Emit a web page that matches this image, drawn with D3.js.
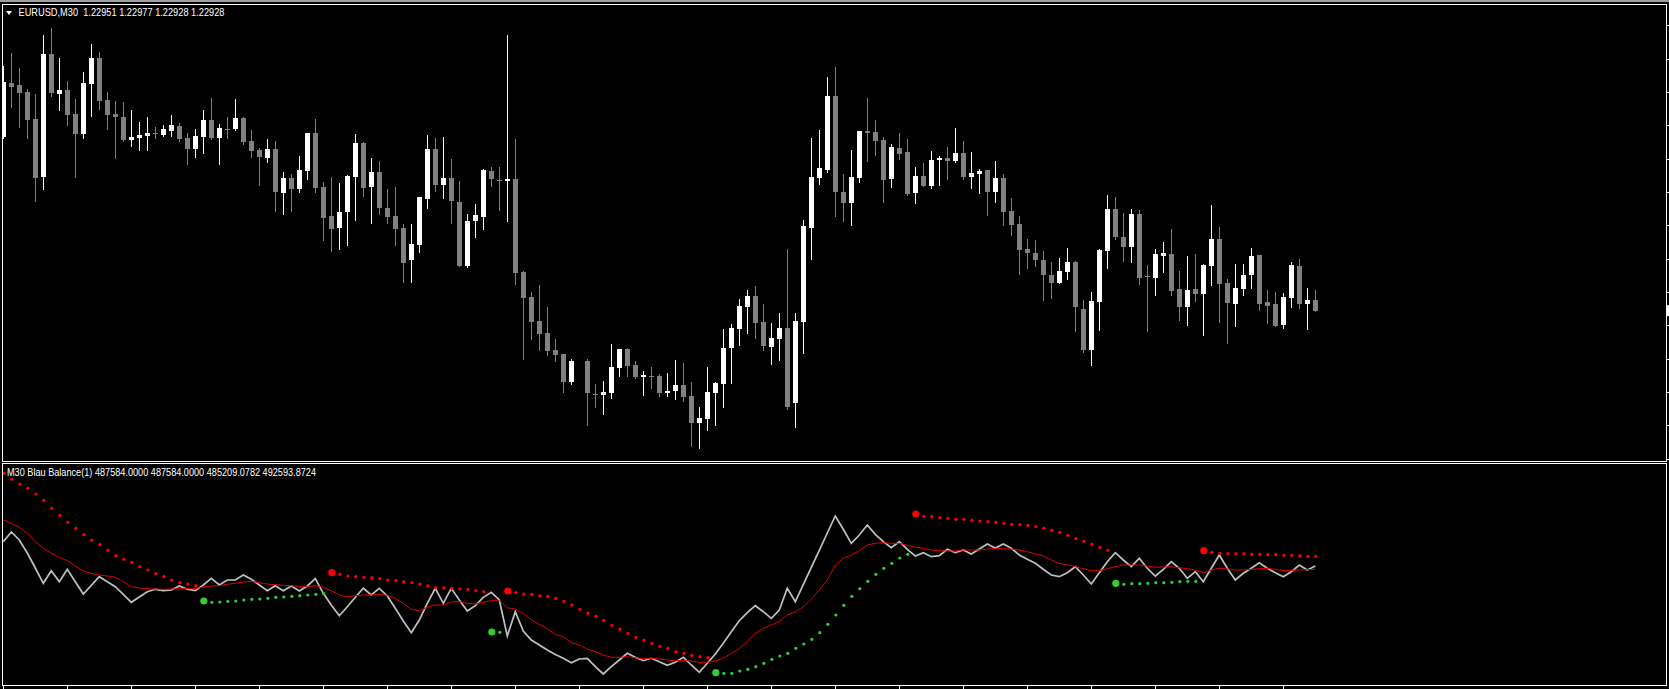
<!DOCTYPE html>
<html><head><meta charset="utf-8">
<script src="https://cdn.jsdelivr.net/npm/d3@7"></script>
<style>html,body{margin:0;padding:0;background:#000;overflow:hidden} text{white-space:pre}</style>
</head><body><svg id="c" width="1669" height="689"></svg>
<script>
// ---- DATA (price levels in chart points; bar index 0..164) ----
const N = null;
const titleText = "EURUSD,M30  1.22951 1.22977 1.22928 1.22928";
const indicatorText = "M30 Blau Balance(1) 487584.0000 487584.0000 485209.0782 492593.8724";

const barOpen = [970,1131,1125,1104,1023,850,1218,1099,1110,1038,979,1129,1206,1080,1038,1029,960,967,973,980,
976,988,1002,966,934,969,1020,967,994,994,1026,957,930,907,933,802,846,814,868,981,
819,732,697,745,850,951,820,864,756,732,696,601,646,784,933,826,846,774,583,718,
730,867,841,838,843,564,489,417,381,331,318,235,N,298,199,196,202,277,334,285,
250,253,253,202,208,226,193,112,123,202,229,337,394,460,493,415,340,364,397,172,
415,697,847,870,1093,805,772,847,987,984,960,844,936,924,802,852,823,901,906,898,
921,850,859,870,805,846,747,708,633,621,600,556,532,565,594,453,331,475,628,753,
669,640,738,551,547,613,618,513,460,513,499,583,663,531,469,514,556,615,474,468,
406,487,582,467,480];
const barHigh = [1183,1221,1176,1113,1098,1275,1296,1206,1137,1083,1164,1248,1224,1104,1077,1074,1050,1014,1029,999,
1005,1036,1011,981,993,1050,1086,1008,1029,1083,1029,990,936,963,957,864,858,912,981,1023,
834,849,831,856,978,954,906,897,813,819,708,708,789,975,966,969,903,837,738,768,
873,879,879,1275,963,567,504,525,459,364,318,302,N,302,229,237,349,334,337,298,
267,280,259,262,301,292,235,160,280,235,394,409,484,511,523,469,412,442,634,442,
721,966,990,1150,1180,859,930,987,1086,1020,969,948,981,963,879,891,927,912,939,996,
957,924,873,870,897,858,786,732,663,660,627,594,606,636,597,480,504,633,795,789,
741,753,750,585,633,654,693,567,612,618,588,765,699,543,588,588,636,615,510,504,
501,593,602,515,510];
const barLow = [967,1060,1000,967,778,814,1093,1051,1006,850,967,1033,1054,994,907,958,943,931,931,967,
973,973,958,889,910,922,964,889,967,991,949,910,826,895,748,739,748,805,844,805,
661,628,634,646,721,793,712,739,712,646,535,535,625,757,808,787,712,583,580,670,
694,823,751,718,529,304,364,331,316,298,205,229,N,106,160,139,187,253,253,247,
196,217,193,193,184,178,43,37,90,105,160,232,346,382,367,331,289,301,154,100,
322,604,829,865,733,718,706,835,898,916,775,820,904,796,772,821,817,826,844,895,
844,817,802,736,775,706,676,559,577,583,481,487,532,544,388,325,286,391,577,664,
598,595,529,388,496,565,496,421,406,478,376,526,415,352,403,496,517,451,412,403,
397,460,457,394,448];
const barClose = [1135,1120,1102,1021,847,1218,1102,1110,1036,979,1131,1206,1078,1036,1030,960,969,975,981,980,
993,1005,963,934,972,1020,966,996,994,1026,955,928,910,933,805,846,814,870,981,817,
727,694,744,852,951,817,864,757,730,694,592,648,789,933,826,846,778,583,717,735,
870,844,841,843,562,487,415,379,328,316,235,298,N,202,199,204,279,334,283,250,
255,253,202,208,226,190,112,127,204,232,337,397,463,493,412,343,367,397,160,418,
703,850,876,1093,805,772,850,987,982,958,841,939,919,799,852,823,900,907,898,921,
850,861,868,805,846,745,706,631,622,601,556,532,567,594,460,331,477,630,753,670,
640,738,547,551,618,621,508,460,510,499,585,663,529,472,516,555,612,469,463,403,
489,585,469,480,448];

// indicator buffers (indicator units)
const balanceLine = [158.3,168,160,147,132,116.7,129.3,118.3,130.7,118.3,
106,114.7,123.3,118.3,113.3,105.7,97.7,103,108.3,110.7,
109.3,110,114,110.7,109.3,115,121.7,115,120,120,
125,120.7,115,109.3,114.3,109.3,114,109,114,121.3,
106.7,95,84.3,93.3,102.7,111.7,105,111.7,104,91.7,
79,67.3,80,96.7,111.7,96.7,111.7,100,89,94.3,
102.7,107.7,100,64,88.3,69,60,55,50,45.5,
41.7,37.3,41,41.7,33.3,26,33.3,40,46.7,42.7,
39.3,41.7,38.3,34.7,37.7,42.7,35,27.7,36.7,46,
56.7,68.3,79.3,87.3,94.3,88.3,81.7,90,111.7,98.3,
115.3,132.7,149.7,167,184,170.7,156.7,165,175,165.7,
158.3,152.3,158.3,150.7,144,147.3,143.3,144.3,150.7,147.3,
150,146,151,156,152,156,151.7,145,140.7,136.7,
130.7,125,123.3,127.3,133.3,125,116,127.3,138.3,147.3,
140,133.3,141.7,131.7,124,130.7,138.3,131.7,121.7,128.3,
118.3,131.7,145,131.7,120,126.7,131.7,137.3,131.7,127.3,
123.3,128.3,135,130,134];
const balanceMA = [180,176.7,172.7,166.7,158.3,151.7,146.7,142.7,139.3,134,
129,126.7,125,124,122.7,118.3,113.3,112,111.3,111,
110.7,111,111.3,111.3,111.3,113,114,114.3,115.7,116.7,
118,118.7,117.3,116,115.3,114.7,114.3,113.7,113.3,114.3,
112.7,109.3,105,103.3,104.3,105,105,105.7,104.7,101.7,
96.7,90.7,89.3,92.7,95,95,98.3,98.3,96.7,96,
97.7,99.3,99.3,92.3,91,86.7,80,75.7,71.5,65.5,
63.3,57.3,55,51,48.3,45,42.7,42.7,43.3,42.3,
41.3,41.7,41,40,39.3,39.7,39,37.7,37.7,39.3,
41.7,46.7,51.7,58.3,66.7,71.7,75,78.3,85,88.3,
93.3,100.7,110,120,135,141.7,145,149.3,155,156.7,
157.3,156.7,156.7,154.7,152.7,151.7,150,149.3,149,149,
150,150,150,151,151.5,151.3,151,150,148.3,146,
144,140,136.7,135.3,133.3,131.3,129.3,129.3,131.3,133.3,
135,135,135,134,132.7,133,133.3,132.3,131.3,130,
127.3,130,131.7,131,130,130,130.7,131.3,131.7,130.7,
129.3,129.7,130,130.3,130.7];
const upperDots = [226.7,220.7,216,211.7,206,199.7,191.7,184.7,177.7,171.7,165.3,160,155.3,150,144.3,140.7,137.7,133.3,130,126.3,123.3,120,117.3,116,114.3,
N,N,N,N,N,N,N,N,N,N,N,N,N,N,N,N,
127.3,125.7,124,123.3,122.7,122.3,121.3,120,119.3,118.3,117.3,116,114.3,112.3,112.3,111.7,111,110.7,109.3,108.3,
N,N,
109,107.3,106,105.7,104.3,103.7,101.7,98.7,95,90.7,86.7,83.7,79.7,74.7,70.7,66.7,62.7,59.7,56.7,53.7,51.7,48.3,46.7,44.7,43.3,42.3,
N,N,N,N,N,N,N,N,N,N,N,N,N,N,N,N,N,N,N,N,N,N,N,N,N,
186,183.7,183.3,182.3,181.7,180.7,180.7,179.7,179,178.3,177.7,176.7,175.7,175.3,174.7,173.3,171.7,169.7,167.7,164.7,161.3,158.7,155.7,152.7,149.7,
N,N,N,N,N,N,N,N,N,N,N,
149.3,147.7,146.7,146.3,146.3,146.3,145.7,145.7,145.3,145.3,144.7,144.7,144.3,143.7,143.7];
const lowerDots = [N,N,N,N,N,N,N,N,N,N,N,N,N,N,N,N,N,N,N,N,N,N,N,N,N,
99,97.7,98,98.7,99,100,100.7,101,101.7,102.7,103,103.7,104.3,105,105.7,106.3,
N,N,N,N,N,N,N,N,N,N,N,N,N,N,N,N,N,N,N,N,
68,67.7,
N,N,N,N,N,N,N,N,N,N,N,N,N,N,N,N,N,N,N,N,N,N,N,N,N,N,
27.3,26.7,26.7,29,30.7,33.3,36.7,40.7,44,46.7,51.7,56,60.7,67.3,75.7,85,94.7,103.7,111.3,118.7,125.7,131.7,136.7,142,145.7,
N,N,N,N,N,N,N,N,N,N,N,N,N,N,N,N,N,N,N,N,N,N,N,N,N,
116.7,115.7,116.3,116.3,116.7,117.3,117.3,117.7,118.3,118.7,118.7,
N,N,N,N,N,N,N,N,N,N,N,N,N,N,N];

const priceTicks = [4,104,204,304,404,504,604,704,804,904,1004,1104,1204,1304];
const timeTicks = [0,8,16,24,32,40,48,56,64,72,80,88,96,104,112,120,128,136,144,152,160];

// ---- DRAWING ----
const W = 1669, H = 689;
const svg = d3.select('#c');
const x = d3.scaleLinear().domain([0,164]).range([3.3,1315.3]);
const yP = d3.scaleLinear().domain([0,1305]).range([460,25]);
const yI = d3.scaleLinear().domain([0,237]).range([700,463]);
const px = i => Math.round(x(i)) + 0.5;

svg.append('rect').attr('width',W).attr('height',H).attr('fill','#000');
svg.append('rect').attr('x',0).attr('y',0).attr('width',W).attr('height',2).attr('fill','#a0a0a0');

const defs = svg.append('defs');
defs.append('clipPath').attr('id','cpMain').append('rect').attr('x',3).attr('y',5).attr('width',1663).attr('height',456);
defs.append('clipPath').attr('id','cpInd').append('rect').attr('x',3).attr('y',464).attr('width',1663).attr('height',221);

// candles
const bars = d3.range(barOpen.length).filter(i => barOpen[i] !== null);
const gC = svg.append('g').attr('clip-path','url(#cpMain)').attr('shape-rendering','crispEdges');
const col = i => barClose[i] > barOpen[i] ? '#ffffff' : '#808080';
gC.selectAll('line.wick').data(bars).join('line').attr('class','wick')
  .attr('x1',px).attr('x2',px)
  .attr('y1',i => yP(barHigh[i])).attr('y2',i => yP(barLow[i]) + 1)
  .attr('stroke',col).attr('stroke-width',1);
gC.selectAll('rect.body').data(bars).join('rect').attr('class','body')
  .attr('x',i => Math.round(x(i)) - 2).attr('width',5)
  .attr('y',i => Math.min(yP(barOpen[i]), yP(barClose[i])))
  .attr('height',i => Math.max(1, Math.abs(yP(barOpen[i]) - yP(barClose[i]))))
  .attr('fill',col);

// indicator
const gI = svg.append('g').attr('clip-path','url(#cpInd)');
const idx = d3.range(balanceLine.length);
gI.append('path').datum(idx)
  .attr('d', d3.line().x(i => x(i)).y(i => yI(balanceLine[i])))
  .attr('fill','none').attr('stroke','#c0c0c0').attr('stroke-width',1.7).attr('stroke-linejoin','miter');
gI.append('path').datum(idx)
  .attr('d', d3.line().x(i => x(i)).y(i => yI(balanceMA[i])))
  .attr('fill','none').attr('stroke','#e00000').attr('stroke-width',1);

function dots(arr, color) {
  const pts = idx.filter(i => arr[i] !== null);
  gI.selectAll(null).data(pts).join('circle')
    .attr('cx', i => x(i) + 0.5).attr('cy', i => yI(arr[i]))
    .attr('r', i => (i > 0 && arr[i-1] === null) ? 3.6 : 1.6)
    .attr('fill', color);
}
dots(upperDots, '#ff0000');
dots(lowerDots, '#32cd32');

// frames
const fr = svg.append('g').attr('fill','none').attr('stroke','#fff').attr('stroke-width',1).attr('shape-rendering','crispEdges');
fr.append('rect').attr('x',2.5).attr('y',4.5).attr('width',1664).attr('height',457);
fr.append('rect').attr('x',2.5).attr('y',463.5).attr('width',1664).attr('height',222);

// price ticks on right edge
svg.append('g').attr('shape-rendering','crispEdges').selectAll('line').data(priceTicks).join('line')
  .attr('x1',1667).attr('x2',1669).attr('y1',d => Math.round(yP(d))+0.5).attr('y2',d => Math.round(yP(d))+0.5)
  .attr('stroke','#fff');
// current price marker
svg.append('rect').attr('x',1667).attr('y',yP(barClose[164]) - 5.5).attr('width',4).attr('height',11).attr('fill','#fff');

// time ticks below indicator
svg.append('g').attr('shape-rendering','crispEdges').selectAll('line').data(timeTicks).join('line')
  .attr('x1',px).attr('x2',px).attr('y1',686).attr('y2',689).attr('stroke','#fff');

// labels
svg.append('path').attr('d','M6,11 L12,11 L9,15 Z').attr('fill','#fff');
svg.append('text').attr('x',18.5).attr('y',16).attr('fill','#fff').attr('xml:space','preserve')
  .attr('font-family','Liberation Sans, Arial, sans-serif').attr('font-size',10.5)
  .attr('textLength',206).attr('lengthAdjust','spacingAndGlyphs').text(titleText);
svg.append('text').attr('x',7).attr('y',476).attr('fill','#fff')
  .attr('font-family','Liberation Sans, Arial, sans-serif').attr('font-size',10.5)
  .attr('textLength',309).attr('lengthAdjust','spacingAndGlyphs').text(indicatorText);
</script>
</body></html>
